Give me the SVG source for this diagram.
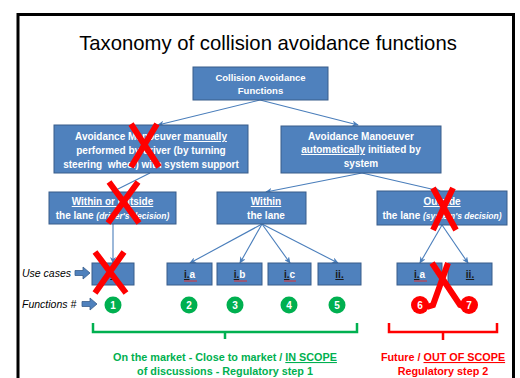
<svg xmlns="http://www.w3.org/2000/svg" width="520" height="378" viewBox="0 0 520 378">
<style>
.box{fill:#4F81BD;stroke:#385D8A;stroke-width:1}
.bt{font-family:"Liberation Sans",Arial,sans-serif;font-weight:bold;fill:#fff;text-anchor:middle}
.conn{stroke:#4A7EBB;stroke-width:1.1;fill:none}
.ux{stroke:#FF0000;stroke-width:6;stroke-linecap:butt}
.dk{fill:#1a1a1a}
.lab{font-family:"Liberation Sans",Arial,sans-serif;font-style:italic;font-size:10.5px;fill:#000}
.num{font-family:"Liberation Sans",Arial,sans-serif;font-weight:bold;font-size:10px;fill:#fff;text-anchor:middle}
.barrow{fill:#4F81BD;stroke:#385D8A;stroke-width:0.8}
.ft{font-family:"Liberation Sans",Arial,sans-serif;font-weight:bold;font-size:10.8px;text-anchor:middle}
</style>
<defs>
<marker id="ah" markerWidth="7" markerHeight="6" refX="6" refY="3" orient="auto" markerUnits="userSpaceOnUse">
<path d="M0,0 L7,3 L0,6 L2,3 Z" fill="#4A7EBB"/>
</marker>
</defs>
<rect width="520" height="378" fill="#fff"/>
<rect x="18" y="14.5" width="495.5" height="380" fill="none" stroke="#000" stroke-width="3"/>
<text x="268" y="50" font-family="'Liberation Sans',Arial,sans-serif" font-size="20.3" text-anchor="middle" fill="#000">Taxonomy of collision avoidance functions</text>

<g id="connectors">
<line class="conn" x1="260" y1="100" x2="158" y2="125" marker-end="url(#ah)"/>
<line class="conn" x1="260" y1="100" x2="358" y2="125" marker-end="url(#ah)"/>
<line class="conn" x1="150" y1="173" x2="112" y2="192" marker-end="url(#ah)"/>
<line class="conn" x1="362" y1="173" x2="266" y2="192" marker-end="url(#ah)"/>
<line class="conn" x1="362" y1="173" x2="440" y2="191" marker-end="url(#ah)"/>
<line class="conn" x1="113" y1="224" x2="113" y2="263" marker-end="url(#ah)"/>
<line class="conn" x1="262" y1="224" x2="190" y2="263" marker-end="url(#ah)"/>
<line class="conn" x1="262" y1="224" x2="240" y2="263" marker-end="url(#ah)"/>
<line class="conn" x1="262" y1="224" x2="290" y2="263" marker-end="url(#ah)"/>
<line class="conn" x1="262" y1="224" x2="338" y2="263" marker-end="url(#ah)"/>
<line class="conn" x1="442" y1="225" x2="420" y2="263" marker-end="url(#ah)"/>
<line class="conn" x1="442" y1="225" x2="468" y2="263" marker-end="url(#ah)"/>
</g>

<g id="n-root">
<rect class="box" x="193" y="67" width="135" height="33"/>
<text class="bt" font-size="9.5" x="260.5" y="81">Collision Avoidance</text>
<text class="bt" font-size="9.5" x="260.5" y="94">Functions</text>
</g>

<g id="n-manual">
<rect class="box" x="54" y="125" width="194" height="48"/>
<text class="bt" font-size="10" x="151" y="140">Avoidance Manoeuver <tspan text-decoration="underline">manually</tspan></text>
<text class="bt" font-size="10" x="151" y="154">performed by driver (by turning</text>
<text class="bt" font-size="10" x="151" y="168" xml:space="preserve">steering  wheel) with system support</text>
</g>

<g id="n-auto">
<rect class="box" x="281" y="126" width="160" height="47"/>
<text class="bt" font-size="10" x="361" y="140">Avoidance Manoeuver</text>
<text class="bt" font-size="10" x="361" y="153"><tspan text-decoration="underline">automatically</tspan> initiated by</text>
<text class="bt" font-size="10" x="361" y="167">system</text>
</g>

<g id="n-within-outside">
<rect class="box" x="49" y="192" width="127" height="32"/>
<text class="bt" font-size="10" x="112.5" y="205" text-decoration="underline">Within or outside</text>
<text class="bt" font-size="10" x="112.5" y="219">the lane <tspan font-style="italic" font-size="8.5">(driver's decision)</tspan></text>
</g>

<g id="n-within">
<rect class="box" x="217" y="192" width="89" height="32"/>
<text class="bt" font-size="10" x="266" y="205" text-decoration="underline">Within</text>
<text class="bt" font-size="10" x="266" y="219">the lane</text>
</g>

<g id="n-outside">
<rect class="box" x="377" y="191" width="130" height="34"/>
<text class="bt" font-size="10" x="442" y="205" text-decoration="underline">Outside</text>
<text class="bt" font-size="10" x="442" y="219">the lane <tspan font-style="italic" font-size="8.5">(system's decision)</tspan></text>
</g>

<g id="uc-i">
<rect class="box" x="92" y="263" width="42" height="22"/>
<text class="bt dk" font-size="10" x="113" y="278" text-decoration="underline">i.</text>
</g>
<g id="uc-ia">
<rect class="box" x="167" y="263" width="45" height="22"/>
<text class="bt" font-size="10" x="189.5" y="278"><tspan class="dk" text-decoration="underline">i.</tspan>a</text>
<line x1="184" y1="281" x2="197" y2="281" stroke="#E03030" stroke-width="1"/>
</g>
<g id="uc-ib">
<rect class="box" x="217" y="263" width="45" height="22"/>
<text class="bt" font-size="10" x="239.5" y="278"><tspan class="dk" text-decoration="underline">i.</tspan>b</text>
<line x1="234" y1="281" x2="247" y2="281" stroke="#E03030" stroke-width="1"/>
</g>
<g id="uc-ic">
<rect class="box" x="268" y="263" width="43" height="22"/>
<text class="bt" font-size="10" x="289.5" y="278"><tspan class="dk" text-decoration="underline">i.</tspan>c</text>
<line x1="284" y1="281" x2="296" y2="281" stroke="#E03030" stroke-width="1"/>
</g>
<g id="uc-ii">
<rect class="box" x="318" y="263" width="43" height="22"/>
<text class="bt dk" font-size="10" x="339.5" y="278" text-decoration="underline">ii.</text>
</g>
<g id="uc-ia2">
<rect class="box" x="397" y="263" width="45" height="22"/>
<text class="bt" font-size="10" x="419.5" y="278"><tspan class="dk" text-decoration="underline">i.</tspan>a</text>
<line x1="414" y1="281" x2="427" y2="281" stroke="#E03030" stroke-width="1"/>
</g>
<g id="uc-ii2">
<rect class="box" x="448" y="263" width="44" height="22"/>
<text class="bt dk" font-size="10" x="470" y="278" text-decoration="underline">ii.</text>
</g>

<g id="labels">
<text class="lab" x="22" y="277">Use cases</text>
<path class="barrow" d="M75,270.5 H83 V267 L90,273 L83,279 V275.5 H75 Z"/>
<text class="lab" x="22" y="308">Functions #</text>
<path class="barrow" d="M82,301.5 H90 V298 L97,304 L90,310 V306.5 H82 Z"/>
</g>

<g id="functions">
<circle cx="113" cy="305" r="8.5" fill="#00B050"/><text class="num" x="113" y="308.5">1</text>
<circle cx="189" cy="305" r="8.5" fill="#00B050"/><text class="num" x="189" y="308.5">2</text>
<circle cx="235" cy="305" r="8.5" fill="#00B050"/><text class="num" x="235" y="308.5">3</text>
<circle cx="289" cy="305" r="8.5" fill="#00B050"/><text class="num" x="289" y="308.5">4</text>
<circle cx="337" cy="305" r="8.5" fill="#00B050"/><text class="num" x="337" y="308.5">5</text>
<circle cx="420" cy="305" r="9" fill="#FF0000"/><text class="num" x="420" y="308.5">6</text>
<circle cx="469" cy="305" r="9" fill="#FF0000"/><text class="num" x="469" y="308.5">7</text>
</g>

<g id="brackets">
<path d="M93,323 V332 H357 V323 M225,332 V339" fill="none" stroke="#00B050" stroke-width="2.5"/>
<path d="M389,323 V332 H497 V323 M443,332 V340" fill="none" stroke="#FF0000" stroke-width="2.5"/>
<text class="ft" x="225" y="361" fill="#00B050">On the market - Close to market / <tspan text-decoration="underline">IN SCOPE</tspan></text>
<text class="ft" x="225" y="375" fill="#00B050">of discussions - Regulatory step 1</text>
<text class="ft" x="443" y="361" fill="#FF0000">Future / <tspan text-decoration="underline">OUT OF SCOPE</tspan></text>
<text class="ft" x="443" y="375" fill="#FF0000">Regulatory step 2</text>
</g>

<g id="crosses">
<path class="ux" d="M131,124 L159,167 M157,124 L131,167"/>
<path class="ux" d="M109,182 L139,223 M138,182 L108,223"/>
<path class="ux" d="M433,188 L456,230 M453,188 L433,230"/>
<path class="ux" d="M95,252 L126,293 M124,252 L95,293"/>
<path class="ux" d="M432,263 L460,305 L466,307 M448,263 L433,305 L427,307" fill="none"/>
</g>
</svg>
